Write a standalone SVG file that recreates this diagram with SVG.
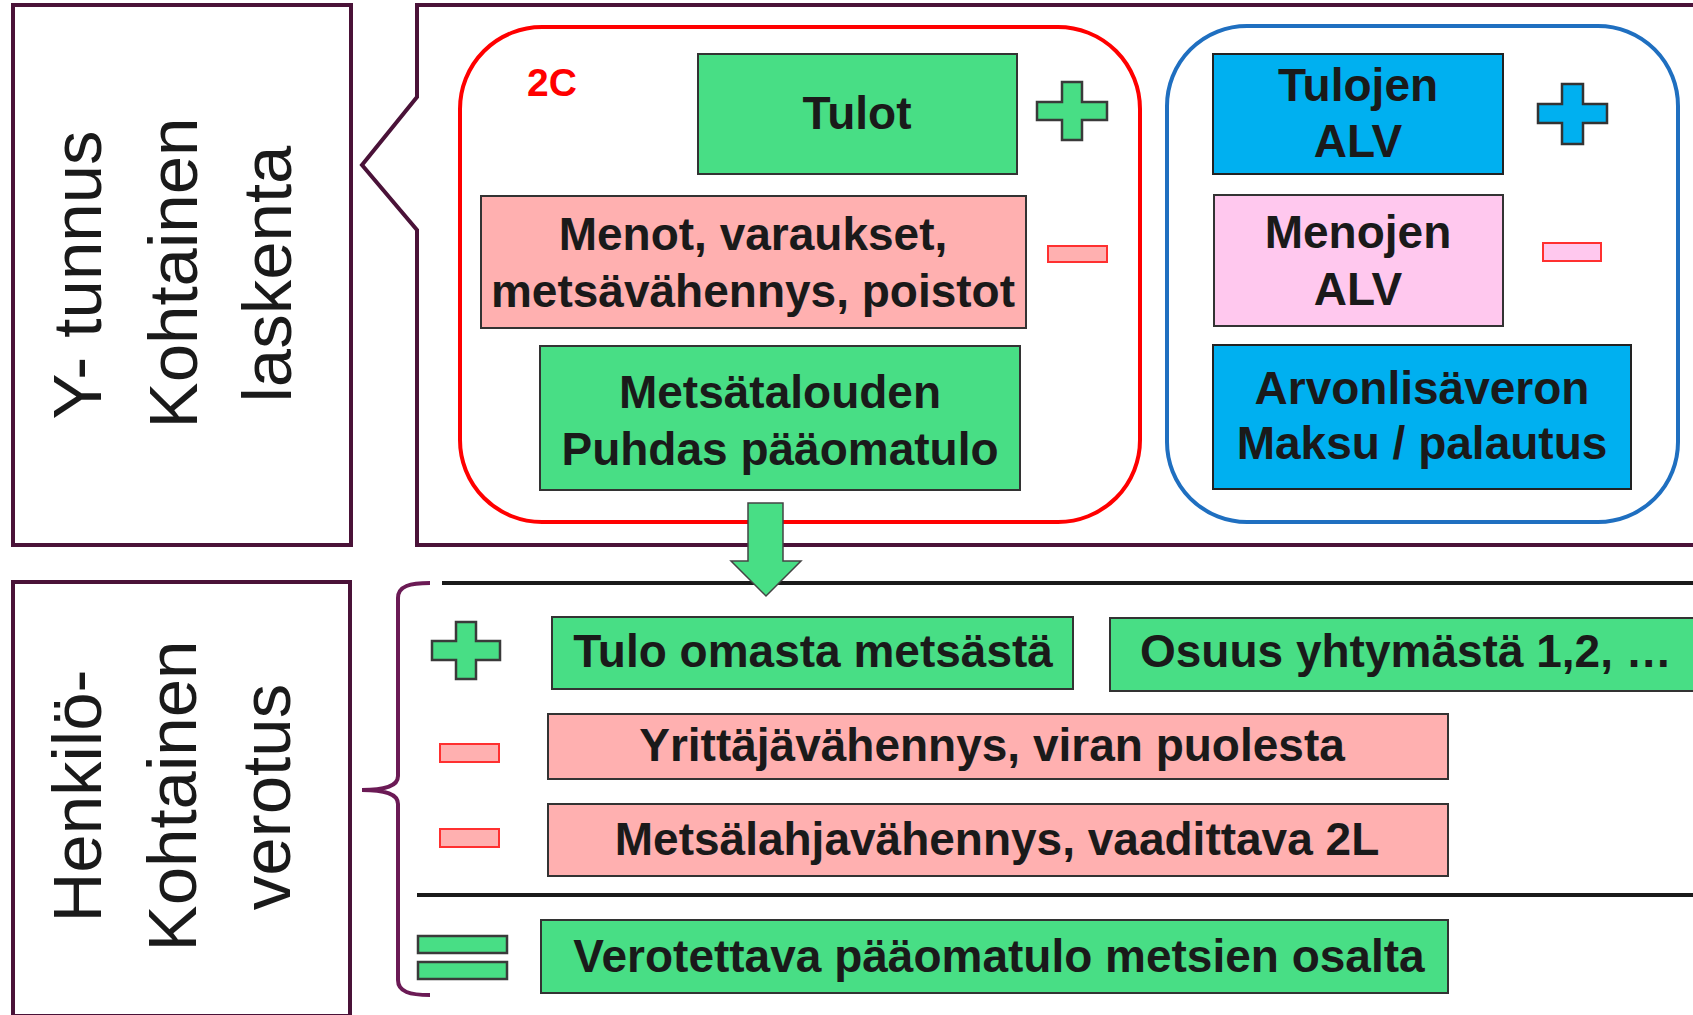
<svg xmlns="http://www.w3.org/2000/svg" width="1693" height="1015" viewBox="0 0 1693 1015">
<style>
.frame{fill:none;stroke:#4a1238;stroke-width:4}
.side{font-family:"Liberation Sans",Arial,sans-serif;font-size:69px;fill:#1a1a1a;text-anchor:middle}
.lbl{font-family:"Liberation Sans",Arial,sans-serif;font-size:46px;font-weight:bold;fill:#1a1a1a;text-anchor:middle}
.lbls{font-family:"Liberation Sans",Arial,sans-serif;font-size:46px;font-weight:bold;fill:#1a1a1a;text-anchor:start}
.g{fill:#48de85;stroke:#333;stroke-width:2}
.s{fill:#ffb0b0;stroke:#333;stroke-width:2}
.b{fill:#00b0f0;stroke:#222;stroke-width:2}
.p{fill:#ffc8ee;stroke:#333;stroke-width:2}
.gs{fill:#48de85;stroke:#3a3a3a;stroke-width:2.5}
.bs{fill:#00b0f0;stroke:#333;stroke-width:2.5}
.ms{fill:#ffb0b0;stroke:#ff3030;stroke-width:2}
.mp{fill:#ffc8ee;stroke:#ff3030;stroke-width:2}
.rule{stroke:#1a1a1a;stroke-width:4}
</style>
<rect width="1693" height="1015" fill="#fff"/>

<g id="box-ytunnus">
<rect class="frame" x="13" y="5" width="338" height="540"/>
<text class="side" transform="translate(101,275) rotate(-90)">Y- tunnus</text>
<text class="side" transform="translate(197,273) rotate(-90)">Kohtainen</text>
<text class="side" transform="translate(291,274) rotate(-90)">laskenta</text>
</g>

<g id="callout">
<path class="frame" d="M1700 5 H417 V97 L362 165 L417 230 V545 H1700"/>
</g>

<g id="group-2c">
<rect x="460" y="27" width="680" height="495" rx="82" fill="none" stroke="#ff0000" stroke-width="4"/>
<text x="527" y="96" font-family="Liberation Sans, Arial, sans-serif" font-size="39" font-weight="bold" fill="#ff0000">2C</text>
</g>

<g id="tulot">
<rect class="g" x="698" y="54" width="319" height="120"/>
<text class="lbl" x="857" y="129">Tulot</text>
</g>
<g id="plus-tulot">
<polygon class="gs" points="1062,82 1082,82 1082,102 1107,102 1107,120 1082,120 1082,140 1062,140 1062,120 1037,120 1037,102 1062,102"/>
</g>

<g id="menot">
<rect class="s" x="481" y="196" width="545" height="132"/>
<text class="lbl" x="753" y="250">Menot, varaukset,</text>
<text class="lbl" x="753" y="307">metsävähennys, poistot</text>
</g>
<g id="minus-menot">
<rect class="ms" x="1048" y="246" width="59" height="16"/>
</g>

<g id="metsatalouden">
<rect class="g" x="540" y="346" width="480" height="144"/>
<text class="lbl" x="780" y="408">Metsätalouden</text>
<text class="lbl" x="780" y="465">Puhdas pääomatulo</text>
</g>

<g id="group-alv">
<rect x="1167" y="26" width="511" height="496" rx="80" fill="none" stroke="#1f6fc0" stroke-width="4"/>
</g>

<g id="tulojen-alv">
<rect class="b" x="1213" y="54" width="290" height="120"/>
<text class="lbl" x="1358" y="101">Tulojen</text>
<text class="lbl" x="1358" y="157">ALV</text>
</g>
<g id="plus-alv">
<polygon class="bs" points="1562,84 1583,84 1583,104 1607,104 1607,123 1583,123 1583,144 1562,144 1562,123 1538,123 1538,104 1562,104"/>
</g>

<g id="menojen-alv">
<rect class="p" x="1214" y="195" width="289" height="131"/>
<text class="lbl" x="1358" y="248">Menojen</text>
<text class="lbl" x="1358" y="305">ALV</text>
</g>
<g id="minus-alv">
<rect class="mp" x="1543" y="243" width="58" height="18"/>
</g>

<g id="arvonlisaveron">
<rect class="b" x="1213" y="345" width="418" height="144"/>
<text class="lbl" x="1422" y="404">Arvonlisäveron</text>
<text class="lbl" x="1422" y="459">Maksu / palautus</text>
</g>

<g id="box-henkilo">
<rect class="frame" x="13" y="582" width="337" height="434"/>
<text class="side" transform="translate(101,796) rotate(-90)">Henkilö-</text>
<text class="side" transform="translate(196,796) rotate(-90)">Kohtainen</text>
<text class="side" transform="translate(290,797) rotate(-90)">verotus</text>
</g>

<g id="connectors">
<path d="M430 583 C410 583 398 586 398 598 V776 C398 786 386 790 362 790 C386 790 398 794 398 804 V980 C398 992 410 995 430 995" fill="none" stroke="#6b1a55" stroke-width="4"/>
<line class="rule" x1="442" y1="583" x2="1693" y2="583"/>
<line class="rule" x1="417" y1="895" x2="1693" y2="895"/>
<polygon points="748,503 783,503 783,561 801,561 766,596 731,561 748,561" fill="#48de85" stroke="#444" stroke-width="1.5"/>
</g>

<g id="plus-bottom">
<polygon class="gs" points="456,622 476,622 476,641 500,641 500,660 476,660 476,679 456,679 456,660 432,660 432,641 456,641"/>
</g>
<g id="tulo-omasta">
<rect class="g" x="552" y="617" width="521" height="72"/>
<text class="lbl" x="813" y="667">Tulo omasta metsästä</text>
</g>
<g id="osuus">
<rect class="g" x="1110" y="618" width="600" height="73"/>
<text class="lbls" x="1140" y="667">Osuus yhtymästä 1,2, …</text>
</g>

<g id="minus-1">
<rect class="ms" x="440" y="744" width="59" height="18"/>
</g>
<g id="yrittaja">
<rect class="s" x="548" y="714" width="900" height="65"/>
<text class="lbl" x="992" y="761">Yrittäjävähennys, viran puolesta</text>
</g>

<g id="minus-2">
<rect class="ms" x="440" y="829" width="59" height="18"/>
</g>
<g id="metsalahja">
<rect class="s" x="548" y="804" width="900" height="72"/>
<text class="lbl" x="997" y="855">Metsälahjavähennys, vaadittava 2L</text>
</g>

<g id="equals">
<rect class="gs" x="418" y="936" width="89" height="17"/>
<rect class="gs" x="418" y="962" width="89" height="17"/>
</g>
<g id="verotettava">
<rect class="g" x="541" y="920" width="907" height="73"/>
<text class="lbl" x="999" y="972">Verotettava pääomatulo metsien osalta</text>
</g>
</svg>
